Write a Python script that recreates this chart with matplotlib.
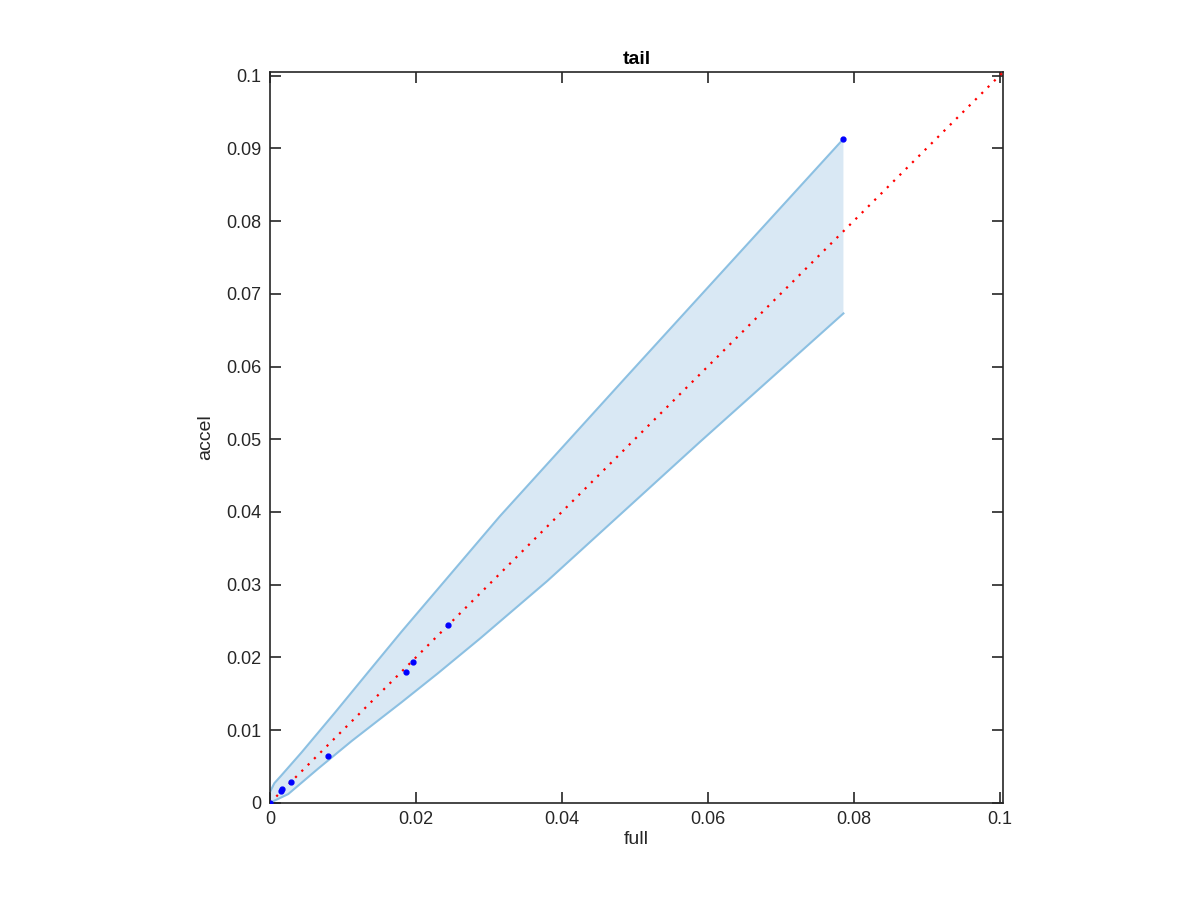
import numpy as np
import matplotlib
matplotlib.use("Agg")
import matplotlib.pyplot as plt

# band boundaries
upper_x = [0, 0.0006, 0.0015, 0.0043, 0.0089, 0.0134, 0.0180, 0.0315, 0.0485, 0.0786]
upper_y = [0.0015, 0.0027, 0.0037, 0.0069, 0.0124, 0.0179, 0.0235, 0.0394, 0.0582, 0.0913]
lower_x = [0, 0.0025, 0.0066, 0.0112, 0.0180, 0.0230, 0.0288, 0.0380, 0.0589, 0.0786]
lower_y = [0, 0.0012, 0.0047, 0.0085, 0.0138, 0.0178, 0.0226, 0.0305, 0.0496, 0.0673]

# observed points
full = [0, 0.0015, 0.0017, 0.0029, 0.0080, 0.0187, 0.0196, 0.0244, 0.0786]
accel = [0, 0.0016, 0.0019, 0.0028, 0.0065, 0.0180, 0.0193, 0.0244, 0.0913]

lim = 0.1005
ticks_x = [0, 0.02, 0.04, 0.06, 0.08, 0.1]
ticks_y = [0, 0.01, 0.02, 0.03, 0.04, 0.05, 0.06, 0.07, 0.08, 0.09, 0.1]

plt.rcParams["font.family"] = ["Liberation Sans", "DejaVu Sans"]

fig = plt.figure(figsize=(12, 9), dpi=100)
ax = fig.add_axes([0.225, 0.108, 0.611, 0.812])

# shaded band as one closed polygon
poly_x = list(upper_x) + list(lower_x[::-1])
poly_y = list(upper_y) + list(lower_y[::-1])
ax.fill(poly_x, poly_y, color="#d9e8f4", lw=0, zorder=1)
ax.plot(upper_x, upper_y, color="#8cc0e2", lw=1.5, zorder=2)
ax.plot(lower_x, lower_y, color="#8cc0e2", lw=1.5, zorder=2)

ax.plot([0, lim], [0, lim], color="red", ls=(0, (1, 3)), lw=1.6, zorder=3)
ax.plot(full, accel, ls="none", marker="o", ms=3.5, color="blue", zorder=4)

ax.set_xlim(0, lim)
ax.set_ylim(0, lim)
ax.set_xticks(ticks_x)
ax.set_xticklabels(["0", "0.02", "0.04", "0.06", "0.08", "0.1"])
ax.set_yticks(ticks_y)
ax.set_yticklabels(["0", "0.01", "0.02", "0.03", "0.04", "0.05", "0.06", "0.07",
                    "0.08", "0.09", "0.1"])
ax.tick_params(direction="in", length=8, width=1.2, top=True, right=True,
               labelsize=13, colors="#262626", pad=6)
for s in ax.spines.values():
    s.set_linewidth(1.2)
    s.set_color("#262626")

ax.set_xlabel("full", fontsize=14, color="#262626", labelpad=2)
ax.set_ylabel("accel", fontsize=14, color="#262626", labelpad=9)
ax.set_title("tail", fontsize=14, fontweight="bold", pad=6)

fig.savefig("out.png", dpi=100)
